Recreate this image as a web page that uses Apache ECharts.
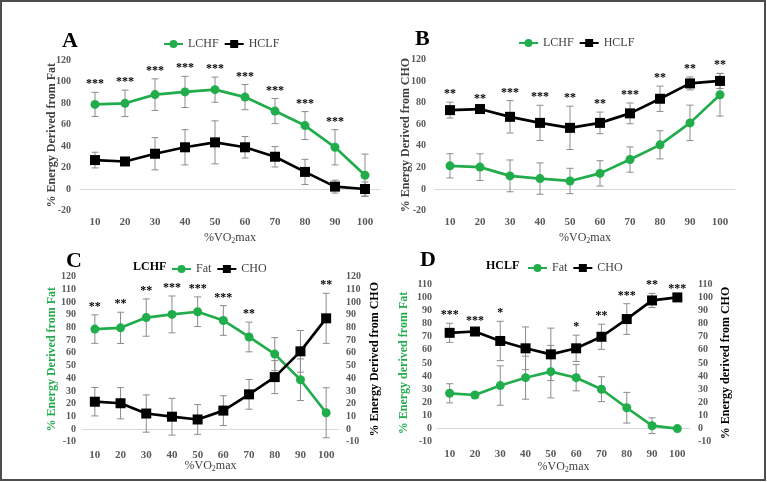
<!DOCTYPE html>
<html><head><meta charset="utf-8">
<script src="https://cdn.jsdelivr.net/npm/echarts@6/dist/echarts.min.js"></script>
<style>html,body{margin:0;padding:0;background:#fff}#c{width:767px;height:482px}</style>
</head><body><div id="c"></div>
<script>
const categories = ['10','20','30','40','50','60','70','80','90','100'];
const lchfFat   = [78.7, 79.7, 87.8, 90.3, 92.4, 85.5, 72.5, 59.0, 38.8, 12.8];
const lchfFatSD = [11.2, 12.3, 14.7, 14.5, 11.7, 11.7, 11.7, 13.0, 16.4, 19.7];
const hclfFat   = [26.9, 25.6, 32.8, 38.8, 43.4, 38.8, 30.0, 15.9, 2.2, 0.0];
const hclfFatSD = [7.3, 2.0, 15.0, 16.4, 20.0, 10.0, 9.5, 11.7, 6.0, 6.5];
const lchfCho   = [21.5, 20.3, 12.2, 9.7, 7.5, 14.5, 27.3, 40.9, 61.2, 87.2];
const lchfChoSD = [11.2, 12.3, 14.7, 14.5, 11.7, 11.7, 11.7, 13.0, 16.4, 19.7];
const hclfCho   = [73.0, 74.0, 66.8, 61.2, 56.6, 61.2, 70.0, 83.5, 97.7, 100.0];
const hclfChoSD = [7.3, 2.0, 15.0, 16.3, 20.0, 10.0, 9.6, 11.7, 6.0, 7.0];
const hclfFatSD_D = [7.3, 2.0, 15.0, 16.4, 20.0, 10.0, 9.5, 11.7, 6.0, 0.5];
const hclfChoSD_D = [7.3, 2.0, 15.0, 16.3, 20.0, 10.0, 9.6, 11.7, 5.4, 0.5];
const starsA = ['***','***','***','***','***','***','***','***','***',''];
const starsB = ['**','**','***','***','**','**','***','**','**','**'];
const starsC = ['**','**','**','***','***','***','**','','','**'];
const starsD = ['***','***','*','','','*','**','***','**','***'];
const yTicksAB = {min:-20, max:120, interval:20};
const yTicksC = {min:-10, max:120, interval:10};
const yTicksD = {min:-10, max:110, interval:10};

const SERIF = "'Liberation Serif','Times New Roman',serif";
const GREEN = '#21ad4b';
const BLACK = '#000000';
const GRAY = '#595959';

function xAxis(gi, margin, gap){
  return {type:'category', gridIndex:gi, data:categories, boundaryGap:true,
    axisLine:{lineStyle:{color:'#d9d9d9'}}, axisTick:{inside:true,length:4,lineStyle:{color:'#d9d9d9'}},
    axisLabel:{margin:margin, color:GRAY, fontFamily:SERIF, fontWeight:'bold', fontSize:11},
    name:'%VO{s|2}max', nameLocation:'middle', nameGap:gap, nameMoveOverlap:false,
    nameTextStyle:{color:'#404040', fontFamily:SERIF, fontSize:12, rich:{s:{fontSize:8, verticalAlign:'bottom', padding:[6,0,0,0], fontFamily:SERIF, color:'#404040'}}}
  };
}
function yAxis(gi, t, name, pos, nameColor, margin, gap){
  return {type:'value', gridIndex:gi, position:pos, min:t.min, max:t.max, interval:t.interval,
    axisLine:{show:false}, axisTick:{show:false}, splitLine:{show:false},
    axisLabel:{margin:margin, color:GRAY, fontFamily:SERIF, fontWeight:'bold', fontSize:10},
    name:name, nameLocation:'middle', nameGap:gap, nameRotate:90, nameMoveOverlap:false,
    nameTextStyle:{color:nameColor, fontFamily:SERIF, fontWeight:'bold', fontSize:12}
  };
}
function lineSeries(name, data, xi, yi, color, sym){
  return {type:'line', name:name, data:data, xAxisIndex:xi, yAxisIndex:yi, z:3,
    symbol:sym, symbolSize: sym==='circle'?9:10, showSymbol:true,
    lineStyle:{width:2.7, color:color}, itemStyle:{color:color}};
}
function errSeries(mean, sd, xi, yi){
  return {type:'custom', xAxisIndex:xi, yAxisIndex:yi, z:1, silent:true,
    encode:{x:0, y:1},
    data: mean.map((m,i)=>[i, m, sd[i]]),
    renderItem:(p, api)=>{
      const x = api.value(0), m = api.value(1), s = api.value(2);
      const t = api.coord([x, m+s]), b = api.coord([x, m-s]);
      const w = 3.5, st = {stroke:'#8c8c8c', lineWidth:1};
      return {type:'group', children:[
        {type:'line', shape:{x1:t[0],y1:t[1],x2:b[0],y2:b[1]}, style:st},
        {type:'line', shape:{x1:t[0]-w,y1:t[1],x2:t[0]+w,y2:t[1]}, style:st},
        {type:'line', shape:{x1:b[0]-w,y1:b[1],x2:b[0]+w,y2:b[1]}, style:st}
      ]};
    }};
}
function starSeries(stars, m1, s1, m2, s2, xi, yi){
  return {type:'custom', xAxisIndex:xi, yAxisIndex:yi, z:4, silent:true,
    encode:{x:0, y:1},
    data: stars.map((s,i)=>[i, Math.max(m1[i]+s1[i], m2[i]+s2[i])]),
    renderItem:(p, api)=>{
      const c = api.coord([api.value(0), api.value(1)]);
      return {type:'text', style:{text:stars[p.dataIndex], x:c[0], y:c[1]-8, align:'center', verticalAlign:'middle',
        font:'bold 12px ' + SERIF, fill:'#000'}};
    }};
}
function legend(left, top, names){
  return {left:left, top:top, data:names, itemWidth:19, itemHeight:10, itemGap:5,
    textStyle:{fontFamily:SERIF, fontSize:12, color:'#404040'}, selectedMode:false};
}
function title(text, left, top, size){
  return {text:text, left:left, top:top, textStyle:{fontFamily:SERIF, fontWeight:'bold', fontSize:size, color:'#000'}};
}

const option = {
  animation:false,
  graphic:[{type:'rect', shape:{x:1, y:1, width:764, height:479}, style:{fill:'none', stroke:'#4d4d4d', lineWidth:2}}],
  title:[title('A', 57, 25, 22), title('B', 410, 23, 22), title('C', 61, 245, 22), title('D', 415, 244, 22),
         title('LCHF', 128, 256, 12), title('HCLF', 481, 255, 12)],
  legend:[legend(158, 33, ['LCHF','HCLF']), legend(513, 32, ['LCHF','HCLF']),
          legend(166, 258, ['Fat','CHO']), legend(522, 257, ['Fat','CHO'])],
  grid:[
    {left:80, top:60, width:300, height:150.5},
    {left:435, top:59.3, width:300, height:151.4},
    {left:82, top:276.7, width:257, height:165},
    {left:437, top:284.3, width:253, height:157.4}
  ],
  xAxis:[xAxis(0,6,20), xAxis(1,6,20), xAxis(2,8,17), xAxis(3,7,18)],
  yAxis:[
    yAxis(0, yTicksAB, '% Energy Derived from Fat', 'left', '#404040', 9, 22),
    yAxis(1, yTicksAB, '% Energy Derived from CHO', 'left', '#404040', 9, 23),
    yAxis(2, yTicksC, '% Energy Derived from Fat', 'left', GREEN, 6, 24),
    yAxis(2, yTicksC, '% Energy Derived from CHO', 'right', '#000', 7, 30),
    yAxis(3, yTicksD, '% Energy derived from Fat', 'left', GREEN, 5, 27),
    yAxis(3, yTicksD, '% Energy derived from CHO', 'right', '#000', 8, 30)
  ],
  series:[
    errSeries(lchfFat, lchfFatSD, 0, 0), errSeries(hclfFat, hclfFatSD, 0, 0),
    lineSeries('LCHF', lchfFat, 0, 0, GREEN, 'circle'), lineSeries('HCLF', hclfFat, 0, 0, BLACK, 'rect'),
    starSeries(starsA, lchfFat, lchfFatSD, hclfFat, hclfFatSD, 0, 0),

    errSeries(lchfCho, lchfChoSD, 1, 1), errSeries(hclfCho, hclfChoSD, 1, 1),
    lineSeries('LCHF', lchfCho, 1, 1, GREEN, 'circle'), lineSeries('HCLF', hclfCho, 1, 1, BLACK, 'rect'),
    starSeries(starsB, lchfCho, lchfChoSD, hclfCho, hclfChoSD, 1, 1),

    errSeries(lchfFat, lchfFatSD, 2, 2), errSeries(lchfCho, lchfChoSD, 2, 3),
    lineSeries('Fat', lchfFat, 2, 2, GREEN, 'circle'), lineSeries('CHO', lchfCho, 2, 3, BLACK, 'rect'),
    starSeries(starsC, lchfFat, lchfFatSD, lchfCho, lchfChoSD, 2, 2),

    errSeries(hclfFat, hclfFatSD_D, 3, 4), errSeries(hclfCho, hclfChoSD_D, 3, 5),
    lineSeries('Fat', hclfFat, 3, 4, GREEN, 'circle'), lineSeries('CHO', hclfCho, 3, 5, BLACK, 'rect'),
    starSeries(starsD, hclfFat, hclfFatSD_D, hclfCho, hclfChoSD_D, 3, 4)
  ]
};
const chart = echarts.init(document.getElementById('c'), null, {renderer:'canvas'});
chart.setOption(option);
</script></body></html>
